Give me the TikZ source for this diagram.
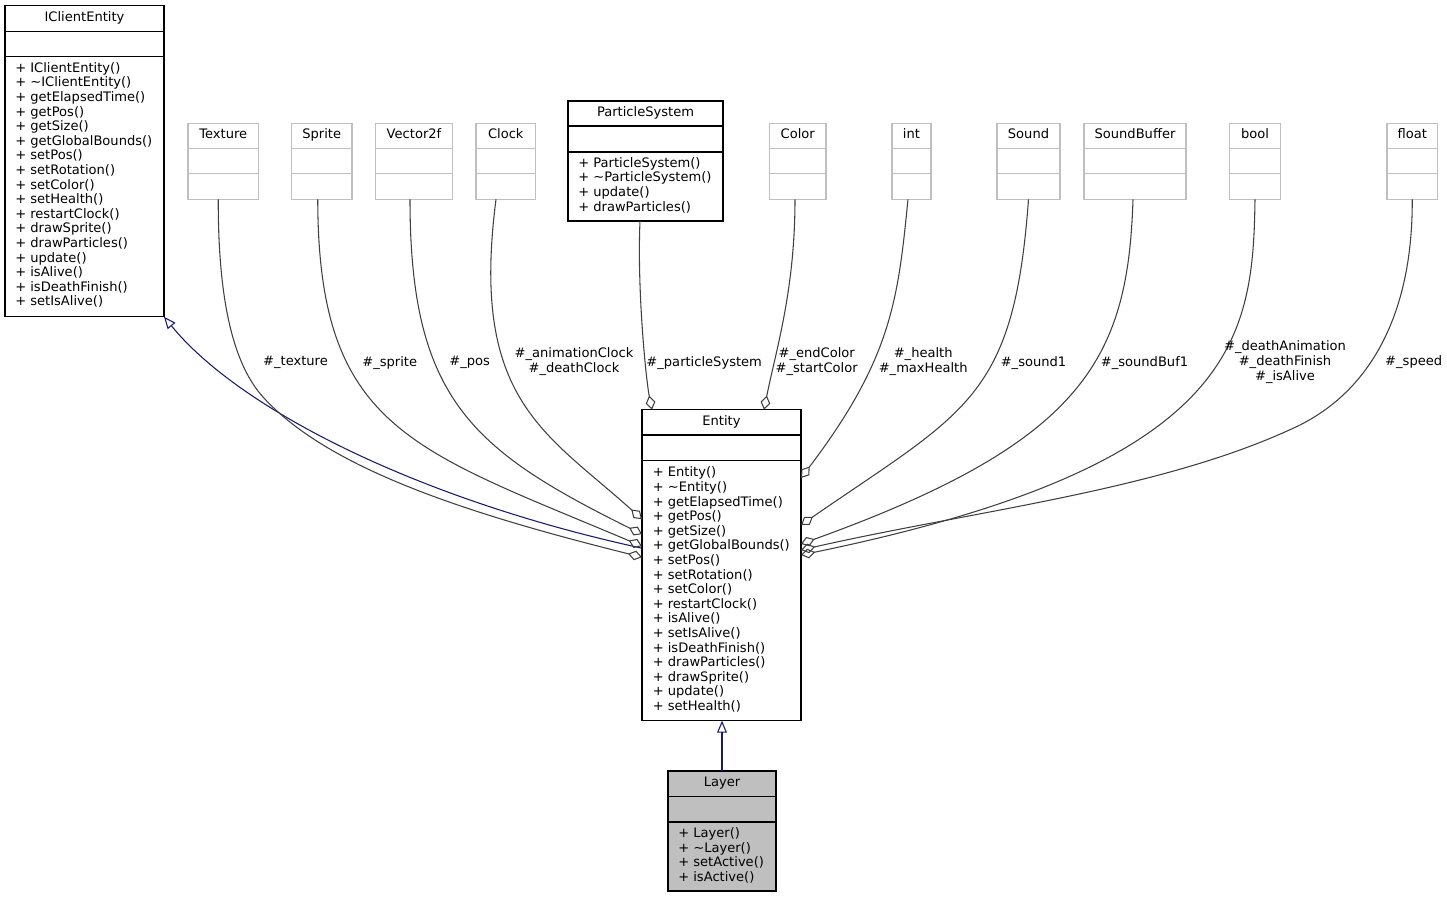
\documentclass[tikz,border=0pt]{standalone}
\usepackage{fontspec}
\setmainfont{DejaVu Sans}
\usetikzlibrary{arrows.meta,calc,fit}
\definecolor{edgegrey}{HTML}{404040}
\definecolor{boxgrey}{HTML}{BFBFBF}
\definecolor{inhblue}{HTML}{191970}

\begin{document}
\begin{tikzpicture}[x=0.75pt, y=-0.75pt,
	every node/.style={font=\fontsize{9.8}{10.95}\selectfont, inner sep=0pt},
	cls/.style={draw=black, line width=0.8pt, inner sep=0pt, outer sep=0pt},
	stub/.style={draw=boxgrey, line width=0.8pt, inner sep=0pt, outer sep=0pt},
	cname/.style={text height=0.76em, text depth=0.24em},
	ops/.style={anchor=west, align=left},
	lbl/.style={align=center},
	agg/.style={draw=edgegrey, line width=0.8pt, -{Diamond[open, length=10.8pt, width=7.4pt]}},
	inh/.style={draw=inhblue, line width=0.8pt, -{Triangle[open, length=9pt, width=7.4pt]}}]
	
	\useasboundingbox (0,0) rectangle (1447,897);
	
	% base class
	\node[cls, fit={(5,5.7) (164,316.7)}] (ice) {};
	\draw[cls] (5,31.3) -- (164,31.3) (5,56.7) -- (164,56.7);
	\node[cname] (ice-name) at ($(ice.north)+(0,12)$) {IClientEntity};
	\node[ops] (ice-ops) at (15,185) {+ IClientEntity()\\+ \textasciitilde IClientEntity()\\+ getElapsedTime()\\+ getPos()\\+ getSize()\\+ getGlobalBounds()\\+ setPos()\\+ setRotation()\\+ setColor()\\+ setHealth()\\+ restartClock()\\+ drawSprite()\\+ drawParticles()\\+ update()\\+ isAlive()\\+ isDeathFinish()\\+ setIsAlive()};
	
	% particle system
	\node[cls, fit={(568,101) (723,221)}] (par) {};
	\draw[cls] (568,126) -- (723,126) (568,152) -- (723,152);
	\node[cname] (par-name) at ($(par.north)+(0,12)$) {ParticleSystem};
	\node[ops] (par-ops) at (578,185) {+ ParticleSystem()\\+ \textasciitilde ParticleSystem()\\+ update()\\+ drawParticles()};
	
	% entity
	\node[cls, fit={(642,409.7) (801,720.7)}] (ent) {};
	\draw[cls] (642,435) -- (801,435) (642,460.7) -- (801,460.7);
	\node[cname] (ent-name) at ($(ent.north)+(0,12)$) {Entity};
	\node[ops] (ent-ops) at (652.5,589.5) {+ Entity()\\+ \textasciitilde Entity()\\+ getElapsedTime()\\+ getPos()\\+ getSize()\\+ getGlobalBounds()\\+ setPos()\\+ setRotation()\\+ setColor()\\+ restartClock()\\+ isAlive()\\+ setIsAlive()\\+ isDeathFinish()\\+ drawParticles()\\+ drawSprite()\\+ update()\\+ setHealth()};
	
	% layer
	\node[cls, fill=boxgrey, fit={(668,771) (776,891)}] (lay) {};
	\draw[cls] (668,796.7) -- (776,796.7) (668,822) -- (776,822);
	\node[cname] (lay-name) at ($(lay.north)+(0,12)$) {Layer};
	\node[ops] (lay-ops) at (678,855.2) {+ Layer()\\+ \textasciitilde Layer()\\+ setActive()\\+ isActive()};
	
	% member types
	\foreach \n/\txt/\xa/\xb in {tex/Texture/188/258.5, spr/Sprite/291.5/352, vec/Vector2f/375.5/452.5, clk/Clock/476/535.5, col/Color/769.5/826, int/int/892/931, snd/Sound/997/1060, sbf/SoundBuffer/1084/1186, boo/bool/1229.5/1280.5, flt/float/1387/1437.5}{
		\node[stub, fit={(\xa,123.3) (\xb,199.3)}] (\n) {};
		\draw[stub] (\xa,148.3) -- (\xb,148.3) (\xa,173.7) -- (\xb,173.7);
		\node[cname] (\n-name) at ($(\n.north)+(0,12)$) {\txt};
	}
	
	% inheritance
	\draw[inh] ($(ent.north west)+(0,138.5)$) .. controls (420,500) and (240,410) .. (ice.south east);
	\draw[inh] (lay.north) -- (lay.north |- ent.south);
	
	% members, left
	\draw[agg] ($(tex.south)+(-5,0)$) .. controls (218,309) and (236,367) .. (263,397) .. controls (330,471) and (477,516) .. ($(ent.north west)+(0,147.5)$);
	\draw[agg] ($(spr.south)+(-4,0)$) .. controls (318,429) and (412,449) .. ($(ent.north west)+(0,136.5)$);
	\draw[agg] ($(vec.south)+(-4,0)$) .. controls (410,399) and (472,450) .. ($(ent.north west)+(0,124.5)$);
	\draw[agg] ($(clk.south)+(-9.75,0)$) .. controls (470,400) and (545,432) .. ($(ent.north west)+(0,109.5)$);
	
	% members, top
	\draw[agg] ($(par.south)+(-5.5,0)$) .. controls (637,290) and (646,380) .. ($(ent.north west)+(10,0)$);
	\draw[agg] ($(col.south)+(-2.75,0)$) .. controls (795,290) and (776,350) .. ($(ent.north west)+(122,0)$);
	
	% members, right
	\draw[agg] ($(int.south)+(-3.5,0)$) .. controls (898,299) and (892,358) .. ($(ent.north east)+(0,68.3)$);
	\draw[agg] (snd.south) .. controls (1014,399) and (966,411) .. ($(ent.north east)+(0,115.3)$);
	\draw[agg] ($(sbf.south)+(-2,0)$) .. controls (1128,359) and (1084,442) .. ($(ent.north east)+(0,134.3)$);
	\draw[agg] (boo.south) .. controls (1253,339) and (1238,465) .. ($(ent.north east)+(0,145.3)$);
	\draw[agg] (flt.south) .. controls (1413,365) and (1325,412) .. (1300,425) .. controls (1165,490) and (977,510) .. ($(ent.north east)+(0,140.3)$);
	
	% member names
	\node[lbl] (l-tex) at (295.5,362.7) {\#\_texture};
	\node[lbl] (l-spr) at (389.7,362.7) {\#\_sprite};
	\node[lbl] (l-vec) at (469.7,362.7) {\#\_pos};
	\node[lbl] (l-clk) at (574,361.8) {\#\_animationClock\\\#\_deathClock};
	\node[lbl] (l-par) at (704.2,362.7) {\#\_particleSystem};
	\node[lbl] (l-col) at (816.7,361.8) {\#\_endColor\\\#\_startColor};
	\node[lbl] (l-int) at (923.2,361.8) {\#\_health\\\#\_maxHealth};
	\node[lbl] (l-snd) at (1033.5,362.7) {\#\_sound1};
	\node[lbl] (l-sbf) at (1144.5,362.7) {\#\_soundBuf1};
	\node[lbl] (l-boo) at (1285,362) {\#\_deathAnimation\\\#\_deathFinish\\\#\_isAlive};
	\node[lbl] (l-flt) at (1413.7,361.7) {\#\_speed};
	
\end{tikzpicture}
\end{document}
